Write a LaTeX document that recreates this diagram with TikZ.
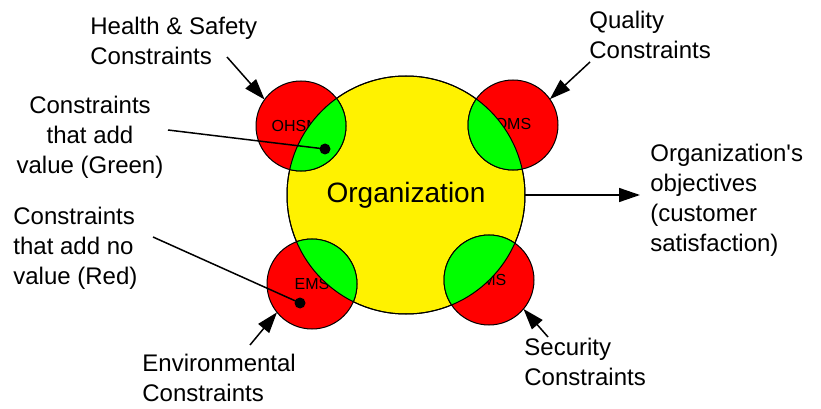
\documentclass[tikz,border=0pt]{standalone}
\usepackage{fontspec}
\setmainfont{Liberation Sans}
\usepackage{tikz}
\usetikzlibrary{arrows.meta}

\begin{document}
\begin{tikzpicture}[x=0.5pt,y=0.5pt,
  disc/.style={circle,draw=black,line width=0.5pt,inner sep=0pt,outer sep=0pt},
  sys/.style={disc,fill=red,minimum size=45pt,font=\fontsize{8}{9.6}\selectfont},
  lbl/.style={inner sep=0pt,font=\fontsize{12}{15}\selectfont},
  arr/.style={line width=0.75pt,-{Triangle[length=10.5pt,width=7pt]}},
  pin/.style={circle,fill=black,inner sep=0pt,minimum size=5.5pt}]
\useasboundingbox (0,0) rectangle (821,408);

% organization and the four systems
\node[disc,fill=yellow,minimum size=119pt,font=\fontsize{14}{17}\selectfont] (org) at (406,213) {Organization};
\node[sys] (ohs) at (301,282) {OHSMS};
\node[sys] (qms) at (513,283) {QMS};
\node[sys] (ems) at (312,124) {EMS};
\node[sys] (sms) at (489,128) {SMS};

% green part = overlap with the organization
\begin{scope}
  \clip (org.center) circle[radius=59.5pt];
  \foreach \s in {ohs,qms,ems,sms}
    \filldraw[fill=green,draw=black,line width=0.5pt] (\s.center) circle[radius=22.5pt];
\end{scope}
\draw[line width=0.5pt] (org.center) circle[radius=59.5pt];

% labels
\node[lbl,anchor=west,align=left] (hs) at (90,367) {Health \& Safety\\Constraints};
\node[lbl,anchor=west,align=left] (qual) at (589,373) {Quality\\Constraints};
\node[lbl,anchor=west,align=left] (envi) at (142,30) {Environmental\\Constraints};
\node[lbl,anchor=west,align=left] (sec) at (524,46) {Security\\Constraints};
\node[lbl,anchor=west,align=left,inner xsep=5pt] (obj) at (640,208) {Organization\textquotesingle s\\objectives\\(customer\\satisfaction)};
\node[lbl,align=center] (grn) at (90,271) {Constraints\\that add\\value (Green)};
\node[lbl,anchor=west,align=left] (rd) at (13,160) {Constraints\\that add no\\value (Red)};

\coordinate (hs-end) at (227,351);
\coordinate (qual-end) at (590,346);
\coordinate (envi-end) at (250,63);
\coordinate (sec-end) at (548,71);
\coordinate (grn-end) at (168,278);
\coordinate (rd-end) at (153,171);

\node[pin] (gdot) at (325,259) {};
\node[pin] (rdot) at (300,105) {};

% connectors
\draw[arr] (hs-end) -- (ohs.144);
\draw[arr] (qual-end) -- (qms.35);
\draw[arr] (envi-end) -- (ems.-141);
\draw[arr] (sec-end) -- (sms.-40);
\draw[arr] (org.east) -- (org.east -| obj.west);
\draw[line width=0.75pt] (grn-end) -- (gdot.center);
\draw[line width=0.75pt] (rd-end) -- (rdot.center);
\end{tikzpicture}
\end{document}
